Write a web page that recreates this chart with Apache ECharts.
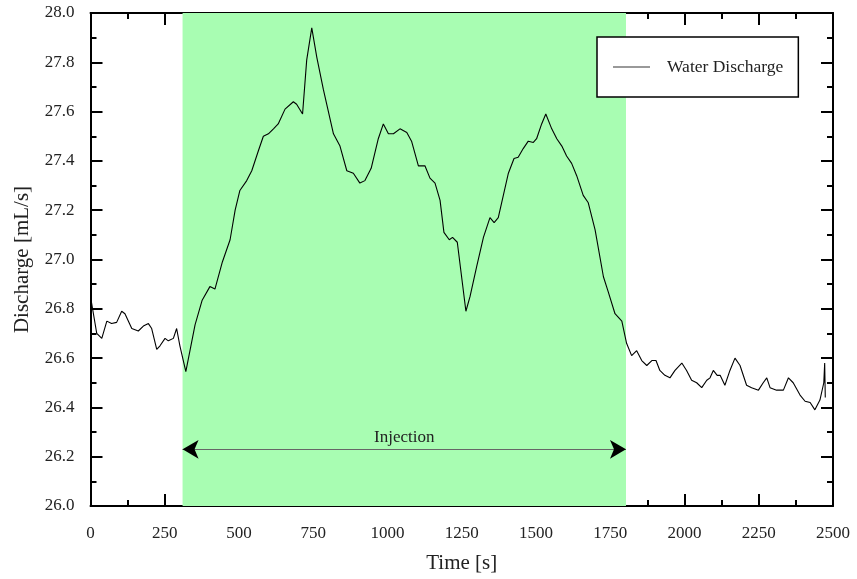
<!DOCTYPE html>
<html><head><meta charset="utf-8">
<script src="https://cdn.jsdelivr.net/npm/echarts@6/dist/echarts.min.js"></script>
<style>html,body{margin:0;padding:0;background:#fff}#c{width:857px;height:579px}</style>
</head><body><div id="c"></div>
<script>
const times = [0,21,38,55,71,88,105,116,139,161,178,195,206,223,234,251,262,279,290,301,321,352,376,402,419,444,470,487,503,526,543,565,582,599,616,632,655,683,694,714,728,745,762,784,818,840,863,885,907,924,945,969,986,1003,1020,1042,1065,1081,1104,1126,1143,1160,1177,1190,1208,1219,1235,1264,1278,1300,1323,1345,1359,1373,1390,1407,1426,1440,1457,1474,1491,1502,1519,1533,1553,1570,1587,1603,1620,1637,1659,1676,1699,1727,1743,1766,1789,1805,1822,1839,1856,1873,1890,1904,1917,1934,1951,1968,1991,2007,2024,2041,2058,2075,2086,2097,2110,2120,2136,2153,2170,2187,2209,2226,2249,2265,2277,2288,2310,2333,2350,2366,2389,2406,2423,2439,2456,2469,2472,2474];
const discharge = [26.85,26.70,26.68,26.75,26.74,26.745,26.79,26.78,26.72,26.71,26.73,26.74,26.72,26.635,26.65,26.68,26.67,26.68,26.72,26.65,26.545,26.735,26.835,26.89,26.88,26.99,27.08,27.20,27.28,27.32,27.36,27.44,27.50,27.51,27.53,27.55,27.61,27.64,27.63,27.59,27.81,27.94,27.82,27.69,27.51,27.46,27.36,27.35,27.31,27.32,27.37,27.49,27.55,27.51,27.51,27.53,27.515,27.48,27.38,27.38,27.33,27.31,27.24,27.11,27.08,27.09,27.07,26.79,26.85,26.97,27.09,27.17,27.15,27.17,27.26,27.35,27.41,27.415,27.45,27.48,27.475,27.49,27.55,27.59,27.53,27.49,27.46,27.42,27.39,27.34,27.26,27.23,27.12,26.93,26.87,26.78,26.75,26.66,26.61,26.63,26.59,26.57,26.59,26.59,26.55,26.53,26.52,26.55,26.58,26.55,26.51,26.50,26.48,26.51,26.52,26.55,26.53,26.53,26.49,26.55,26.60,26.57,26.49,26.48,26.47,26.50,26.52,26.48,26.47,26.47,26.52,26.50,26.45,26.425,26.42,26.39,26.43,26.50,26.58,26.44];
const injectionStart = 310;
const injectionEnd = 1803;
const arrowLevel = 26.23;
const seriesName = 'Water Discharge';
const injectionLabel = 'Injection';
const xTitle = 'Time [s]';
const yTitle = 'Discharge [mL/s]';

const font = '"Liberation Serif", "Times New Roman", serif';
const chart = echarts.init(document.getElementById('c'), null, {renderer: 'canvas'});
const axisCommon = {
  axisLine: {show: true, onZero: false, lineStyle: {color: '#000', width: 2}},
  axisTick: {show: true, inside: true, length: 12, lineStyle: {color: '#000', width: 2}},
  minorTick: {show: true, splitNumber: 2, length: 6, lineStyle: {color: '#000', width: 2}},
  splitLine: {show: false}
};
const arrowEnds = [[{coord: [injectionStart, arrowLevel]}, {coord: [injectionEnd, arrowLevel]}]];
chart.setOption({
  animation: false,
  backgroundColor: '#fff',
  grid: {left: 90.5, right: 24, top: 13, bottom: 72, containLabel: false},
  legend: {
    show: true, data: [{name: seriesName, icon: 'rect', itemStyle: {color: '#777'}}],
    left: 597, top: 37,
    borderColor: '#000', borderWidth: 1.5, borderRadius: 0,
    padding: [20, 15, 20, 16], itemWidth: 37, itemHeight: 1.5,
    textStyle: {fontFamily: font, fontSize: 17.5, lineHeight: 20, color: '#222', padding: [0, 0, 0, 12]},
    backgroundColor: '#fff'
  },
  xAxis: [
    Object.assign({type: 'value', min: 0, max: 2500, interval: 250, position: 'bottom',
      name: xTitle, nameLocation: 'middle', nameGap: 47,
      nameTextStyle: {fontFamily: font, fontSize: 21, color: '#222'},
      axisLabel: {fontFamily: font, fontSize: 17, color: '#222', margin: 19,
        formatter: v => String(v)}}, axisCommon),
    Object.assign({type: 'value', min: 0, max: 2500, interval: 250, position: 'top',
      axisLabel: {show: false}}, axisCommon)
  ],
  yAxis: [
    Object.assign({type: 'value', min: 26, max: 28, interval: 0.2, position: 'left',
      name: yTitle, nameLocation: 'middle', nameGap: 58, nameRotate: 90,
      nameTextStyle: {fontFamily: font, fontSize: 21, color: '#222'},
      axisLabel: {fontFamily: font, fontSize: 17, color: '#222', margin: 16,
        formatter: v => v.toFixed(1)}}, axisCommon),
    Object.assign({type: 'value', min: 26, max: 28, interval: 0.2, position: 'right',
      axisLabel: {show: false}}, axisCommon)
  ],
  series: [
    {
      name: seriesName, type: 'line', xAxisIndex: 0, yAxisIndex: 0,
      data: times.map((t, i) => [t, discharge[i]]),
      symbol: 'none', showSymbol: false,
      lineStyle: {color: '#000', width: 1.1},
      itemStyle: {color: '#000'},
      z: 5,
      markArea: {
        silent: true,
        itemStyle: {color: '#A8FDB2'},
        data: [[{xAxis: injectionStart, yAxis: 26}, {xAxis: injectionEnd, yAxis: 28}]],
        z: 1
      }
    },
    {
      name: 'arrowLine', type: 'line', xAxisIndex: 0, yAxisIndex: 0, data: [],
      markLine: {
        silent: true, symbol: ['none', 'none'],
        lineStyle: {color: '#666', width: 1.2, type: 'solid'},
        label: {show: true, position: 'middle', formatter: injectionLabel,
          fontFamily: font, fontSize: 17, color: '#222', distance: 3},
        data: arrowEnds
      }
    },
    {
      name: 'arrowHeads', type: 'line', xAxisIndex: 0, yAxisIndex: 0, data: [],
      markLine: {
        silent: true, symbol: ['arrow', 'arrow'], symbolSize: [14, 16],
        lineStyle: {color: '#000', width: 0.01, type: 'solid'},
        label: {show: false},
        data: arrowEnds
      }
    }
  ]
});
</script></body></html>
